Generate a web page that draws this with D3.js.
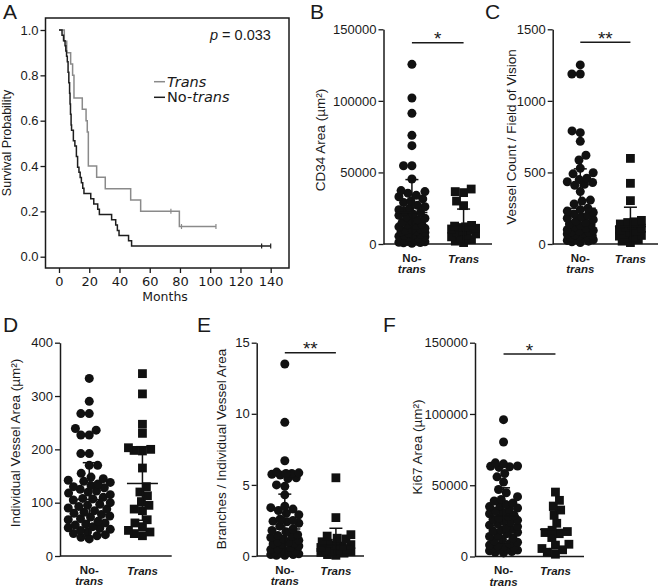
<!DOCTYPE html>
<html><head><meta charset="utf-8">
<script src="https://cdn.jsdelivr.net/npm/d3@7"></script>
<style>
body{margin:0;background:#fff}
svg{display:block}
text{font-family:"Liberation Sans",Arial,sans-serif;fill:#1a1a1a}
</style>
</head><body>
<svg id="c" width="659" height="588"></svg>
<script>
// ---------- Panel A: Kaplan-Meier ----------
const aXTicks = [0, 20, 40, 60, 80, 100, 120, 140];
const aYTicks = [0, 0.2, 0.4, 0.6, 0.8, 1.0];
const transTime = [0, 3.5, 5.1, 7.7, 9.0, 9.9, 15.4, 17.9, 18.7, 19.4, 24.9, 30.6, 47.4, 54.0, 79.6, 103.8];
const transSurv = [1.0, 0.95, 0.90, 0.85, 0.80, 0.70, 0.65, 0.60, 0.55, 0.40, 0.35, 0.30, 0.25, 0.20, 0.133, 0.133];
const transCensor = [74, 81, 103.8];
const noTransTime = [0, 2.0, 3.0, 4.0, 4.5, 5.0, 5.5, 6.0, 6.5, 7.0, 7.3, 7.6, 8.0, 8.3, 9.5, 10.5, 11.5, 12.3, 13.2, 14.0, 14.8, 15.7, 16.5, 21.0, 23.0, 25.6, 26.7, 34.8, 37.5, 38.6, 39.7, 46.0, 48.0, 140];
const noTransSurv = [1, .977, .953, .930, .907, .884, .860, .814, .767, .721, .674, .628, .581, .558, .512, .488, .442, .395, .372, .349, .326, .302, .279, .256, .233, .209, .186, .163, .140, .116, .093, .070, .047, .047];
const noTransCensor = [134, 140];

// ---------- Scatter panels ----------
const categories = ["No-trans", "Trans"];
const bTicks = [0, 50000, 100000, 150000];
const bNoTrans = [125500, 102000, 91300, 75900, 68700, 54700, 54700, 45400, 37300, 36600, 35500, 34000, 33000, 31500, 30000, 29000, 27000, 26000, 25000, 24000, 23000, 22000, 21000, 20000, 19000, 18000, 17000, 16000, 15000, 14000, 13500, 13000, 12000, 11000, 10500, 10000, 9500, 9000, 8500, 8000, 7500, 7000, 6500, 6000, 5500, 5000, 4500, 4000, 3500, 3000, 2800, 2500, 2200, 2000, 1800, 1500, 1200, 1000, 800, 500];
const bTrans = [38400, 36600, 35900, 30000, 26800, 13000, 12500, 12000, 11500, 11000, 10500, 10000, 9000, 8000, 7000, 6000, 5000, 4000, 3000, 2000, 1000];
const bMean = [22000, 12500];
const bSD = [23000, 11900];

const cTicks = [0, 500, 1000, 1500];
const cNoTrans = [1251, 1188, 1188, 790, 778, 717, 620, 587, 529, 498, 490, 460, 450, 435, 430, 417, 410, 366, 307, 300, 280, 250, 240, 230, 220, 210, 200, 190, 180, 170, 160, 150, 140, 135, 130, 120, 110, 100, 95, 90, 85, 80, 75, 70, 65, 60, 55, 50, 45, 40, 35, 30, 25, 20, 15, 10];
const cTrans = [598, 424, 303, 165, 155, 150, 145, 140, 130, 120, 110, 100, 90, 80, 70, 60, 55, 50, 40, 30, 20, 10];
const cMean = [250, 122];
const cSD = [275, 135];

const dTicks = [0, 100, 200, 300, 400];
const dNoTrans = [333, 290, 267, 267, 239, 236, 227, 227, 192, 192, 170, 170, 155, 148, 145, 142, 140, 138, 135, 132, 130, 128, 125, 122, 120, 118, 115, 110, 108, 107, 105, 100, 97, 95, 93, 90, 88, 85, 82, 80, 78, 75, 73, 70, 68, 65, 62, 60, 58, 55, 53, 52, 50, 48, 45, 42, 40, 38, 35, 32];
const dTrans = [342, 304, 247, 230, 203, 200, 198, 197, 165, 130, 120, 113, 102, 95, 88, 85, 68, 62, 55, 48, 45, 42, 38];
const dMean = [106, 136];
const dSD = [69, 69];

const eTicks = [0, 5, 10, 15];
const eNoTrans = [13.5, 9.4, 6.7, 5.9, 5.85, 5.8, 5.8, 5.75, 5.7, 5.5, 5.45, 5.0, 4.9, 4.3, 3.5, 3.4, 3.3, 3.2, 3.0, 2.9, 2.6, 2.5, 2.45, 2.4, 2.3, 2.1, 1.9, 1.8, 1.7, 1.5, 1.45, 1.4, 1.3, 1.2, 1.1, 1.0, 0.95, 0.9, 0.85, 0.8, 0.7, 0.6, 0.5, 0.45, 0.4, 0.35, 0.3, 0.25, 0.2, 0.15, 0.1, 0.1, 0.05, 0.05];
const eTrans = [5.5, 2.7, 1.5, 1.4, 1.25, 1.2, 1.0, 0.9, 0.8, 0.75, 0.7, 0.6, 0.5, 0.45, 0.4, 0.35, 0.3, 0.25, 0.2, 0.1, 0.05];
const eMean = [1.9, 0.77];
const eSD = [2.45, 1.18];

const fTicks = [0, 50000, 100000, 150000];
const fNoTrans = [96000, 80300, 65700, 65000, 63500, 63300, 63000, 62500, 58200, 55900, 52200, 47000, 44700, 42000, 40000, 38900, 37500, 36500, 35500, 35000, 34000, 33000, 32000, 31000, 30000, 29000, 28000, 27000, 26000, 25500, 25000, 24000, 23000, 22000, 21000, 20000, 19000, 18500, 18000, 17000, 16000, 15000, 14000, 13000, 12000, 11000, 10000, 9000, 8000, 7500, 7000, 6500, 6000, 5500, 5000, 4500, 4000, 3500, 3000, 2500];
const fTrans = [45200, 39400, 35400, 32600, 28900, 23300, 18400, 17500, 16800, 16000, 13300, 8600, 8000, 5600, 4700, 3000, 1600];
const fMean = [28400, 19000];
const fSD = [19800, 13500];

const svg = d3.select("#c");
const INK = "#1a1a1a";

function styleAxis(g, family, size) {
  g.attr("font-family", null).attr("font-size", null).attr("color", INK);
  g.selectAll("text").style("font-family", family).style("font-size", size + "px");
  g.selectAll("line").attr("stroke-width", 1.3);
  g.selectAll(".domain").attr("stroke-width", 1.5);
}

// ===== Panel A =====
(function () {
  const x = d3.scaleLinear().domain([0, 140]).range([59, 270.7]);
  const y = d3.scaleLinear().domain([0, 1]).range([256.7, 30]);
  const box = { l: 45.5, r: 289, t: 18, b: 268 };
  const gx = svg.append("g").attr("transform", `translate(0,${box.b})`)
    .call(d3.axisBottom(x).tickValues(aXTicks).tickSize(5).tickPadding(4).tickFormat(d3.format("d")));
  gx.select(".domain").remove();
  styleAxis(gx, "DejaVu Sans", 13);
  const gy = svg.append("g").attr("transform", `translate(${box.l},0)`)
    .call(d3.axisLeft(y).tickValues(aYTicks).tickSize(5).tickPadding(2).tickFormat(d3.format(".1f")));
  gy.select(".domain").remove();
  styleAxis(gy, "Liberation Sans", 13);
  svg.append("rect").attr("x", box.l).attr("y", box.t).attr("width", box.r - box.l).attr("height", box.b - box.t)
    .attr("fill", "none").attr("stroke", INK).attr("stroke-width", 1.5);

  const line = d3.line().x(d => x(d[0])).y(d => y(d[1])).curve(d3.curveStepAfter);
  const series = [
    { t: transTime, s: transSurv, c: transCensor, col: "#8a8a8a" },
    { t: noTransTime, s: noTransSurv, c: noTransCensor, col: "#1e1e1e" }
  ];
  series.forEach(sr => {
    const pts = sr.t.map((t, i) => [t, sr.s[i]]);
    svg.append("path").attr("d", line(pts)).attr("fill", "none").attr("stroke", sr.col).attr("stroke-width", 1.5);
    sr.c.forEach(ct => {
      const i = d3.bisectRight(sr.t, ct) - 1;
      const sv = sr.s[Math.max(0, i)];
      svg.append("line").attr("x1", x(ct)).attr("x2", x(ct)).attr("y1", y(sv) - 2.5).attr("y2", y(sv) + 2.5)
        .attr("stroke", sr.col).attr("stroke-width", 1.2);
    });
  });

  // legend
  svg.append("line").attr("x1", 154).attr("x2", 165).attr("y1", 81.7).attr("y2", 81.7).attr("stroke", "#8a8a8a").attr("stroke-width", 1.5);
  svg.append("line").attr("x1", 154).attr("x2", 165).attr("y1", 97.3).attr("y2", 97.3).attr("stroke", "#1e1e1e").attr("stroke-width", 1.5);
  svg.append("text").attr("x", 167).attr("y", 86.5).style("font-family", "DejaVu Sans").style("font-size", "14.5px")
    .style("font-style", "italic").text("Trans");
  const t2 = svg.append("text").attr("x", 167).attr("y", 102).style("font-family", "DejaVu Sans").style("font-size", "14.5px");
  t2.append("tspan").text("No-");
  t2.append("tspan").style("font-style", "italic").text("trans");

  const pt = svg.append("text").attr("x", 210).attr("y", 39.5).style("font-size", "14.5px");
  pt.append("tspan").style("font-style", "italic").text("p");
  pt.append("tspan").text(" = 0.033");

  svg.append("text").attr("x", 165).attr("y", 300.5).attr("text-anchor", "middle")
    .style("font-family", "DejaVu Sans").style("font-size", "12.5px").text("Months");
  svg.append("text").attr("transform", "translate(7,143) rotate(-90)").attr("dy", "0.35em").attr("text-anchor", "middle")
    .style("font-size", "12.5px").text("Survival Probability");
})();

// ===== beeswarm layout =====
function swarm(vals, y, cx, maxW, d) {
  const s = vals.slice().sort((a, b) => a - b);
  const placed = [];
  const half = maxW / 2;
  for (const v of s) {
    const py = y(v);
    const near = placed.filter(p => Math.abs(p.y - py) < d);
    const cands = [0];
    near.forEach(p => {
      const dx = Math.sqrt(d * d - (p.y - py) ** 2);
      cands.push(p.dx - dx, p.dx + dx);
    });
    const valid = cands.filter(c => Math.abs(c) <= half + 1e-6 &&
      near.every(p => Math.hypot(p.dx - c, p.y - py) >= d - 1e-6));
    let best;
    if (valid.length) {
      best = valid.reduce((a, b) => Math.abs(b) < Math.abs(a) - 1e-9 ? b : a);
    } else {
      let score = -1;
      for (let i = 0; i <= 24; i++) {
        const c = -half + maxW * i / 24;
        const m = d3.min(near, p => Math.hypot(p.dx - c, p.y - py));
        if (m > score + 1e-9) { score = m; best = c; }
      }
    }
    placed.push({ v, dx: best, y: py });
  }
  return placed.map(p => ({ v: p.v, x: cx + p.dx, y: p.y }));
}

// ===== scatter panel =====
function scatterPanel(o) {
  const y = d3.scaleLinear().domain([0, o.ticks[o.ticks.length - 1]]).range([o.yBot, o.yTop]);
  const x = d3.scalePoint().domain(categories).range([o.x0, o.x1]).padding(0.55);
  const gy = svg.append("g").attr("transform", `translate(${o.x0},0)`)
    .call(d3.axisLeft(y).tickValues(o.ticks).tickSize(5).tickPadding(2).tickSizeOuter(0).tickFormat(d3.format("d")));
  styleAxis(gy, "Liberation Sans", 13);
  svg.append("line").attr("x1", o.x0).attr("x2", o.x1).attr("y1", y(0)).attr("y2", y(0))
    .attr("stroke", INK).attr("stroke-width", 1.5);

  const groups = [o.noTrans, o.trans];
  groups.forEach((vals, gi) => {
    const cx = x(categories[gi]);
    const pts = swarm(vals, y, cx, o.maxW[gi], 8.4);
    if (gi === 0) {
      svg.append("g").selectAll("circle").data(pts).join("circle")
        .attr("cx", d => d.x).attr("cy", d => d.y).attr("r", 4.5).attr("fill", "#111");
    } else {
      svg.append("g").selectAll("rect").data(pts).join("rect")
        .attr("x", d => d.x - 4.4).attr("y", d => d.y - 4.4).attr("width", 8.8).attr("height", 8.8).attr("fill", "#111");
    }
    // mean +/- SD
    const m = o.mean[gi], sd = o.sd[gi];
    const lo = Math.max(0, m - sd), hi = m + sd;
    const g = svg.append("g").attr("stroke", "#111").attr("stroke-width", 1.5);
    g.append("line").attr("x1", cx - 15.5).attr("x2", cx + 15.5).attr("y1", y(m)).attr("y2", y(m));
    g.append("line").attr("x1", cx).attr("x2", cx).attr("y1", y(lo)).attr("y2", y(hi));
    g.append("line").attr("x1", cx - 6.5).attr("x2", cx + 6.5).attr("y1", y(hi)).attr("y2", y(hi));
    if (m - sd > 0) g.append("line").attr("x1", cx - 6.5).attr("x2", cx + 6.5).attr("y1", y(lo)).attr("y2", y(lo));
  });

  // category labels
  const base = y(0);
  const c0 = x(categories[0]), c1 = x(categories[1]);
  const lab = svg.append("g").attr("text-anchor", "middle").style("font-weight", "bold").style("font-size", "11.5px");
  lab.append("text").attr("x", c0).attr("y", base + 17.5).text("No-");
  lab.append("text").attr("x", c0).attr("y", base + 29).style("font-style", "italic").text("trans");
  lab.append("text").attr("x", c1).attr("y", base + 18.5).style("font-style", "italic").text("Trans");

  // significance
  if (o.sig) {
    const sy = o.yTop + o.sigDy;
    svg.append("line").attr("x1", c0).attr("x2", c1).attr("y1", sy).attr("y2", sy).attr("stroke", INK).attr("stroke-width", 1.4);
    svg.append("text").attr("x", (c0 + c1) / 2).attr("y", sy + 2.5).attr("text-anchor", "middle")
      .style("font-size", "19px").text(o.sig);
  }

  // y label
  svg.append("text").attr("transform", `translate(${o.labX},${o.labY}) rotate(-90)`).attr("dy", "0.35em")
    .attr("text-anchor", "middle").style("font-size", "13.5px").text(o.label);
}

scatterPanel({ x0: 383.5, x1: 492, yTop: 29.3, yBot: 244, ticks: bTicks, noTrans: bNoTrans, trans: bTrans,
  mean: bMean, sd: bSD, sig: "*", sigDy: 13.4, label: "CD34 Area (µm²)", labX: 320, labY: 140, maxW: [26, 24] });
scatterPanel({ x0: 552.7, x1: 658, yTop: 29.3, yBot: 244, ticks: cTicks, noTrans: cNoTrans, trans: cTrans,
  mean: cMean, sd: cSD, sig: "**", sigDy: 13, label: "Vessel Count / Field of Vision", labX: 511, labY: 137, maxW: [26, 22] });
scatterPanel({ x0: 60, x1: 171.7, yTop: 342.7, yBot: 556, ticks: dTicks, noTrans: dNoTrans, trans: dTrans,
  mean: dMean, sd: dSD, sig: null, label: "Individual Vessel Area (µm²)", labX: 15, labY: 443, maxW: [42, 28] });
scatterPanel({ x0: 256.7, x1: 364, yTop: 342.7, yBot: 556, ticks: eTicks, noTrans: eNoTrans, trans: eTrans,
  mean: eMean, sd: eSD, sig: "**", sigDy: 10, label: "Branches / Individual Vessel Area", labX: 221, labY: 449, maxW: [28, 30] });
scatterPanel({ x0: 475, x1: 584, yTop: 342.7, yBot: 556.5, ticks: fTicks, noTrans: fNoTrans, trans: fTrans,
  mean: fMean, sd: fSD, sig: "*", sigDy: 11.3, label: "Ki67 Area (µm²)", labX: 417, labY: 447, maxW: [28, 27] });

// panel letters
const letters = [["A", 3, 19], ["B", 310, 19], ["C", 485, 19], ["D", 3, 332], ["E", 197, 332], ["F", 383, 332]];
svg.append("g").selectAll("text").data(letters).join("text")
  .attr("x", d => d[1]).attr("y", d => d[2]).style("font-size", "21px").text(d => d[0]);
</script>
</body></html>
